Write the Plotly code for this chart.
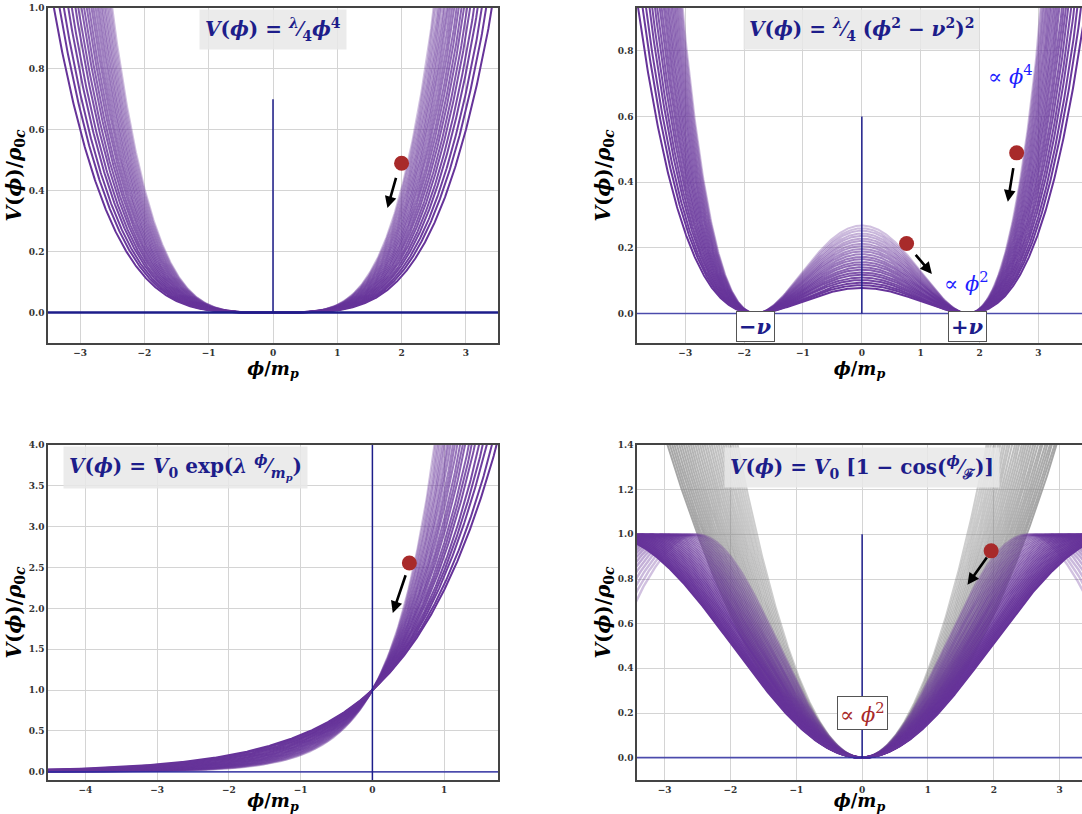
import numpy as np
import plotly.graph_objects as go
from plotly.subplots import make_subplots

# --- values ---
# lambda/4 for the quartic and double-well families
quartic_coef = [0.0074, 0.0082, 0.0089, 0.0097, 0.0104, 0.0112, 0.0119, 0.0127, 0.0134,
                0.0142, 0.0149, 0.0157, 0.0164, 0.0172, 0.0180, 0.0187, 0.0195, 0.0202,
                0.0210, 0.0217, 0.0225, 0.0232, 0.0240, 0.0247, 0.0255]
nu = 1.8
# lambda for the exponential family (V0 = 1)
exp_lambda = [0.80, 0.83, 0.87, 0.90, 0.93, 0.97, 1.00, 1.03, 1.07, 1.10, 1.13, 1.17, 1.20,
              1.23, 1.27, 1.30, 1.33, 1.37, 1.40, 1.43, 1.47, 1.50, 1.53, 1.57, 1.60]
exp_v0 = 1.0
# decay constant F for the natural inflation family (V0 = 0.5)
cos_F = [0.800, 0.815, 0.830, 0.845, 0.860, 0.875, 0.890, 0.905, 0.920, 0.935, 0.950,
         0.965, 0.980, 0.995, 1.010, 1.025, 1.040, 1.055, 1.070, 1.085, 1.100, 1.115,
         1.130, 1.145, 1.160, 1.175, 1.190, 1.205, 1.220, 1.235, 1.250]
cos_v0 = 0.5

# ball positions and arrows (tail -> head), per panel
balls = {
    1: [(2.0, 0.49)],
    2: [(2.63, 0.489), (0.76, 0.213)],
    3: [(0.515, 2.555)],
    4: [(1.96, 0.926)],
}
arrows = {
    1: [((1.92, 0.447), (1.78, 0.343))],
    2: [((2.577, 0.447), (2.48, 0.34)), ((0.893, 0.183), (1.19, 0.12))],
    3: [((0.47, 2.424), (0.284, 1.944))],
    4: [((1.91, 0.903), (1.60, 0.774))],
}
vline_top = {1: 0.7, 2: 0.6, 3: 4.0, 4: 1.0}

x_ranges = {1: [-3.5, 3.5], 2: [-3.82, 3.74], 3: [-4.52, 1.75], 4: [-3.42, 3.34]}
y_ranges = {1: [-0.1, 1.0], 2: [-0.09, 0.93], 3: [-0.1, 4.0], 4: [-0.1, 1.4]}
y_dtick = {1: 0.2, 2: 0.2, 3: 0.5, 4: 0.2}

PURPLE = "102,51,153"
NAVY = "#1d1d8a"
RED = "#a82a2a"
SERIF = "DejaVu Serif"

W, H = 1082, 814

fig = make_subplots(rows=2, cols=2)
cells = {1: (1, 1), 2: (1, 2), 3: (2, 1), 4: (2, 2)}


def alpha(i, n):
    # first entry (smallest parameter) darkest
    return 1.0 - 0.7 * i / (n - 1)


def add_curve(k, x, y, color, a, w=2):
    r, c = cells[k]
    fig.add_trace(go.Scatter(x=x, y=y, mode="lines", hoverinfo="skip", showlegend=False,
                             line=dict(color=f"rgba({color},{a:.3f})", width=w)),
                  row=r, col=c)


# panel 1: quartic
phi = np.linspace(-4, 4, 801)
n = len(quartic_coef)
for i in reversed(range(n)):
    add_curve(1, phi, quartic_coef[i] * phi ** 4, PURPLE, alpha(i, n))

# panel 2: double well
for i in reversed(range(n)):
    add_curve(2, phi, quartic_coef[i] * (phi ** 2 - nu ** 2) ** 2, PURPLE, alpha(i, n))

# panel 3: exponential
phi3 = np.linspace(-5, 2, 701)
n3 = len(exp_lambda)
for i in reversed(range(n3)):
    add_curve(3, phi3, exp_v0 * np.exp(exp_lambda[i] * phi3), PURPLE, alpha(i, n3))

# panel 4: natural inflation with its phi^2 approximation
n4 = len(cos_F)
for i in reversed(range(n4)):
    a = alpha(n4 - 1 - i, n4)
    add_curve(4, phi, cos_v0 * 0.5 * (phi / cos_F[i]) ** 2, "128,128,128", 0.25 + 0.45 * a)
for i in range(n4):
    a = alpha(n4 - 1 - i, n4)
    add_curve(4, phi, cos_v0 * (1 - np.cos(phi / cos_F[i])), PURPLE, a, 2.4)

# reference lines, balls
for k, (r, c) in cells.items():
    xr = x_ranges[k]
    fig.add_trace(go.Scatter(x=[xr[0] - 1, xr[1] + 1], y=[0, 0], mode="lines",
                             hoverinfo="skip", showlegend=False,
                             line=dict(color=NAVY if k == 1 else "rgba(40,40,160,0.8)",
                                       width=2.5 if k == 1 else 1.6)),
                  row=r, col=c)
    y0 = y_ranges[k][0] if k == 3 else 0
    fig.add_trace(go.Scatter(x=[0, 0], y=[y0, vline_top[k]], mode="lines",
                             hoverinfo="skip", showlegend=False,
                             line=dict(color=NAVY, width=1.5)),
                  row=r, col=c)
    bx, by = zip(*balls[k])
    fig.add_trace(go.Scatter(x=list(bx), y=list(by), mode="markers", hoverinfo="skip",
                             showlegend=False,
                             marker=dict(color=RED, size=15, line=dict(width=0))),
                  row=r, col=c)

axis_names = {1: ("x", "y"), 2: ("x2", "y2"), 3: ("x3", "y3"), 4: ("x4", "y4")}
for k, arrs in arrows.items():
    xa, ya = axis_names[k]
    for (tx, ty), (hx, hy) in arrs:
        fig.add_annotation(x=hx, y=hy, ax=tx, ay=ty, xref=xa, yref=ya, axref=xa, ayref=ya,
                           text="", showarrow=True, arrowhead=2, arrowsize=0.9,
                           arrowwidth=2.6, arrowcolor="black")

# formula boxes
titles = {
    1: ("<b><i>V</i>(<i>ϕ</i>) = <sup><i>λ</i></sup>⁄<sub>4</sub><i>ϕ</i><sup>4</sup></b>", 0.0, 0.931),
    2: ("<b><i>V</i>(<i>ϕ</i>) = <sup><i>λ</i></sup>⁄<sub>4</sub> (<i>ϕ</i><sup>2</sup> − <i>ν</i><sup>2</sup>)<sup>2</sup></b>", 0.0, 0.864),
    3: ("<b><i>V</i>(<i>ϕ</i>) = <i>V</i><sub>0</sub> exp(<i>λ</i> <sup><i>ϕ</i></sup>⁄<sub><i>m<sub>p</sub></i></sub>)</b>", -2.61, 3.73),
    4: ("<b><i>V</i>(<i>ϕ</i>) = <i>V</i><sub>0</sub> [1 − cos(<sup><i>ϕ</i></sup>⁄<sub>ℱ</sub>)]</b>", 0.0, 1.30),
}
for k, (txt, tx, ty) in titles.items():
    xa, ya = axis_names[k]
    fig.add_annotation(x=tx, y=ty, xref=xa, yref=ya, text=txt, showarrow=False,
                       font=dict(family=SERIF, size=20, color=NAVY),
                       bgcolor="rgba(232,232,232,0.85)", borderpad=5)

labels = [
    (2, "∝ <i>ϕ</i><sup>4</sup>", 2.52, 0.726, "#1f1fff", None),
    (2, "∝ <i>ϕ</i><sup>2</sup>", 1.78, 0.096, "#1f1fff", None),
    (2, "<b>−<i>ν</i></b>", -1.80, -0.041, NAVY, "#555555"),
    (2, "<b>+<i>ν</i></b>", 1.79, -0.041, NAVY, "#555555"),
    (4, "∝ <i>ϕ</i><sup>2</sup>", 0.0, 0.20, RED, "#555555"),
]
for k, txt, lx, ly, col, border in labels:
    xa, ya = axis_names[k]
    fig.add_annotation(x=lx, y=ly, xref=xa, yref=ya, text=txt, showarrow=False,
                       font=dict(family=SERIF, size=21, color=col),
                       bgcolor="white" if border else None,
                       bordercolor=border if border else "rgba(0,0,0,0)",
                       borderwidth=1 if border else 0, borderpad=2)


# layout / axes: panel edges in window pixels
def xd(a, b):
    return [a / W, min(1.0, b / W)]


def yd(top, bottom):
    return [1 - bottom / H, 1 - top / H]


x_dom = {1: xd(48, 498), 2: xd(637, 1082), 3: xd(48, 498), 4: xd(637, 1082)}
y_dom = {1: yd(8, 343), 2: yd(8, 343), 3: yd(445, 780), 4: yd(445, 780)}
tick_font = dict(family=SERIF, size=9, color="#333333", weight="bold")
for k, (r, c) in cells.items():
    fig.update_xaxes(row=r, col=c, domain=x_dom[k], range=x_ranges[k], dtick=1,
                     showgrid=True, gridcolor="#d4d4d4", gridwidth=1, zeroline=False,
                     showline=True, linecolor="#444444", linewidth=1.5, mirror=True,
                     ticks="", tickfont=tick_font, automargin=False,
                     title=dict(text="<b><i>ϕ</i>/<i>m<sub>p</sub></i></b>",
                                font=dict(family=SERIF, size=18, color="black"), standoff=4))
    fig.update_yaxes(row=r, col=c, domain=y_dom[k], range=y_ranges[k], dtick=y_dtick[k],
                     tick0=0, tickformat=".1f",
                     showgrid=True, gridcolor="#d4d4d4", gridwidth=1, zeroline=False,
                     showline=True, linecolor="#444444", linewidth=1.5, mirror=(c == 1),
                     ticks="", tickfont=tick_font, automargin=False,
                     title=dict(text="<b><i>V</i>(<i>ϕ</i>)/<i>ρ</i><sub>0<i>c</i></sub></b>",
                                font=dict(family=SERIF, size=20, color="black"), standoff=2))

fig.update_layout(width=W, height=H, margin=dict(l=0, r=0, t=0, b=0),
                  plot_bgcolor="white", paper_bgcolor="white", showlegend=False)

# drop the default page margin so the figure fills the window
fig.write_html("out.html", config={"displayModeBar": False},
               post_script="document.body.style.margin='0';document.body.style.overflow='hidden';")
